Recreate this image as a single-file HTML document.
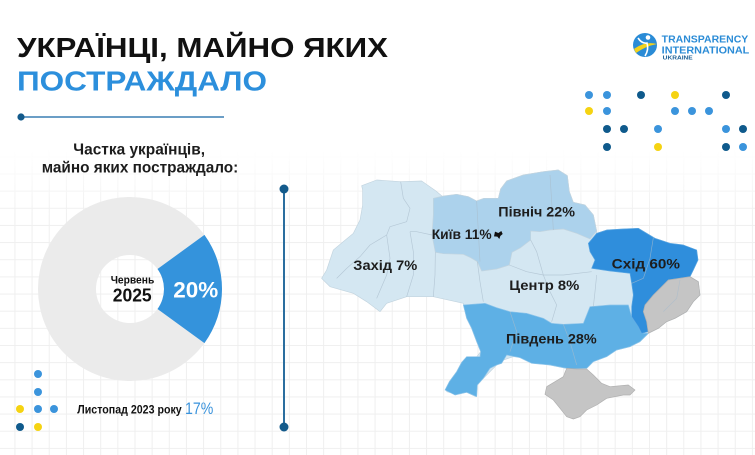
<!DOCTYPE html>
<html><head><meta charset="utf-8"><style>
html,body{margin:0;padding:0;background:#fff;}
svg{display:block;}
text{font-family:"Liberation Sans","DejaVu Sans",sans-serif;}
</style></head><body>
<svg width="755" height="455" viewBox="0 0 755 455" xmlns="http://www.w3.org/2000/svg">
<defs>
<pattern id="grid" x="14.45" y="2" width="17.15" height="17.15" patternUnits="userSpaceOnUse">
<path d="M0.5 0V17.15M0 0.5H17.15" stroke="#efefef" stroke-width="1" fill="none"/>
</pattern>
<linearGradient id="fade" gradientUnits="userSpaceOnUse" x1="0" y1="150" x2="0" y2="215">
<stop offset="0" stop-color="#000"/><stop offset="1" stop-color="#fff"/>
</linearGradient>
<mask id="gm"><rect x="0" y="0" width="755" height="455" fill="url(#fade)"/></mask>
</defs>
<rect width="755" height="455" fill="#fff"/>
<rect width="755" height="455" fill="url(#grid)" mask="url(#gm)"/>

<!-- Title -->
<text x="17" y="57" font-size="28" font-weight="700" fill="#111" textLength="371" lengthAdjust="spacingAndGlyphs">УКРАЇНЦІ, МАЙНО ЯКИХ</text>
<text x="17" y="90.5" font-size="28" font-weight="700" fill="#2c8fdc" textLength="250" lengthAdjust="spacingAndGlyphs">ПОСТРАЖДАЛО</text>
<line x1="21" y1="117" x2="224" y2="117" stroke="#3a7eb3" stroke-width="1.5"/>
<circle cx="21" cy="117" r="3.6" fill="#135a8b"/>

<!-- Subtitle -->
<text x="73.3" y="154.3" font-size="15.5" font-weight="700" fill="#1c1c1c" textLength="131.7" lengthAdjust="spacingAndGlyphs">Частка українців,</text>
<text x="41.7" y="172.7" font-size="15.5" font-weight="700" fill="#1c1c1c" textLength="196.6" lengthAdjust="spacingAndGlyphs">майно яких постраждало:</text>

<!-- Donut -->
<path d="M38,289 a92,92 0 1,0 184,0 a92,92 0 1,0 -184,0 Z M96,289 a34,34 0 1,0 68,0 a34,34 0 1,0 -68,0 Z" fill="#ebebeb" fill-rule="evenodd"/>
<path d="M157.5,269 L204.43,234.92 A92,92 0 0,1 204.43,343.08 L157.5,309 A34,34 0 0,0 157.5,269 Z" fill="#3493dc"/>
<text x="110.7" y="283.3" font-size="11" font-weight="700" fill="#111" textLength="43.6" lengthAdjust="spacingAndGlyphs">Червень</text>
<text x="112.7" y="301.7" font-size="18.5" font-weight="700" fill="#111" textLength="39" lengthAdjust="spacingAndGlyphs">2025</text>
<text x="173.3" y="297.7" font-size="22" font-weight="700" fill="#fff" textLength="45" lengthAdjust="spacingAndGlyphs">20%</text>

<!-- Bottom-left dots -->
<circle cx="38" cy="374" r="4" fill="#3b94dc"/>
<circle cx="38" cy="392" r="4" fill="#3b94dc"/>
<circle cx="20" cy="409" r="4" fill="#f5d312"/>
<circle cx="38" cy="409" r="4" fill="#3b94dc"/>
<circle cx="54" cy="409" r="4" fill="#3b94dc"/>
<circle cx="20" cy="427" r="4" fill="#0f5a8c"/>
<circle cx="38" cy="427" r="4" fill="#f5d312"/>
<text x="77.3" y="413.5" font-size="11.5" font-weight="700" fill="#111" textLength="104.4" lengthAdjust="spacingAndGlyphs">Листопад 2023 року</text>
<text x="185" y="414" font-size="16.5" fill="#3a93dc" textLength="28.3" lengthAdjust="spacingAndGlyphs">17%</text>

<!-- Vertical divider -->
<line x1="284" y1="189" x2="284" y2="427" stroke="#2b6e9f" stroke-width="2"/>
<circle cx="284" cy="189" r="4.5" fill="#135a8b"/>
<circle cx="284" cy="427" r="4.5" fill="#135a8b"/>

<!-- Logo -->
<circle cx="645" cy="45" r="12" fill="#2a8bd6"/>
<path d="M634,49 Q645,41 657,44 Q646,46 636,53 Z" fill="#f3d21c"/>
<circle cx="648" cy="37.5" r="2.3" fill="#fff"/>
<path d="M638,38 Q642,44 647,43 Q649,50 645,56" stroke="#fff" stroke-width="1.6" fill="none"/>
<text x="661.7" y="42.3" font-size="10" font-weight="700" fill="#2a8bd6" textLength="86.6" lengthAdjust="spacingAndGlyphs">TRANSPARENCY</text>
<text x="661.7" y="53.3" font-size="10" font-weight="700" fill="#2a8bd6" textLength="87.6" lengthAdjust="spacingAndGlyphs">INTERNATIONAL</text>
<text x="662.7" y="59.5" font-size="5" font-weight="700" fill="#1b5f95" textLength="30" lengthAdjust="spacingAndGlyphs">UKRAINE</text>

<!-- Top-right dots -->
<g>
<circle cx="589" cy="95" r="4" fill="#3b94dc"/>
<circle cx="607" cy="95" r="4" fill="#3b94dc"/>
<circle cx="641" cy="95" r="4" fill="#0f5a8c"/>
<circle cx="675" cy="95" r="4" fill="#f5d312"/>
<circle cx="726" cy="95" r="4" fill="#0f5a8c"/>
<circle cx="589" cy="111" r="4" fill="#f5d312"/>
<circle cx="607" cy="111" r="4" fill="#3b94dc"/>
<circle cx="675" cy="111" r="4" fill="#3b94dc"/>
<circle cx="692" cy="111" r="4" fill="#3b94dc"/>
<circle cx="709" cy="111" r="4" fill="#3b94dc"/>
<circle cx="607" cy="129" r="4" fill="#0f5a8c"/>
<circle cx="624" cy="129" r="4" fill="#0f5a8c"/>
<circle cx="658" cy="129" r="4" fill="#3b94dc"/>
<circle cx="726" cy="129" r="4" fill="#3b94dc"/>
<circle cx="743" cy="129" r="4" fill="#0f5a8c"/>
<circle cx="607" cy="147" r="4" fill="#0f5a8c"/>
<circle cx="658" cy="147" r="4" fill="#f5d312"/>
<circle cx="726" cy="147" r="4" fill="#0f5a8c"/>
<circle cx="743" cy="147" r="4" fill="#3b94dc"/>
</g>

<!-- Map -->
<g transform="translate(310 165) scale(0.333333)" stroke-linejoin="round">
<polygon fill="#d4e7f2" stroke="#c2d4df" stroke-width="2" points="155,62 200,45 272,50 335,48 378,78 398,95 440,88 475,95 500,108 522,100 565,100 572,72 590,48 640,30 700,20 745,15 772,32 778,80 790,112 825,120 850,150 860,198 860,205 891,195 940,192 985,190 1035,220 1080,235 1120,240 1160,255 1164,285 1150,315 1140,335 1165,350 1170,390 1150,410 1130,440 1095,460 1070,470 1045,490 1015,505 990,530 960,545 920,555 880,570 850,590 830,610 780,612 720,600 680,590 650,578 610,575 580,585 560,600 545,615 520,640 502,660 498,695 470,682 440,688 410,680 418,650 440,620 455,592 470,578 498,578 512,560 500,530 485,490 470,460 460,415 370,395 290,395 230,415 210,440 170,410 130,385 60,365 35,340 50,315 70,255 100,230 130,205 150,165 158,120 158,75"/>
<polygon fill="#acd2ec" stroke="#c2d4df" stroke-width="2" points="370,100 400,93 440,88 475,95 500,108 522,100 565,100 572,72 590,48 640,30 700,20 745,15 772,32 778,80 790,112 825,120 850,150 860,198 840,222 800,205 760,192 720,195 690,200 662,198 662,225 632,248 606,262 598,300 560,312 515,318 502,290 482,278 460,268 400,266 376,262 366,210 370,150"/>
<polygon fill="#5eb0e5" stroke="#8cc4ea" stroke-width="2" points="460,420 525,415 560,428 600,440 650,445 700,460 725,475 760,478 820,475 840,425 900,420 955,420 965,455 985,485 995,505 1015,505 990,530 960,545 920,555 890,575 850,590 830,610 780,612 720,600 665,595 630,578 590,570 575,595 560,600 540,610 520,640 502,660 500,695 470,682 435,690 405,675 418,650 440,620 455,592 470,575 510,575 512,560 500,530 485,490 470,460"/>
<polygon fill="#2f8edc" stroke="#5aa6e2" stroke-width="2" points="835,235 860,205 891,195 940,192 985,190 1035,220 1080,235 1120,240 1160,255 1164,285 1150,315 1140,335 1075,345 1050,370 1030,390 1005,420 1000,440 1010,470 1015,500 995,505 985,485 965,455 965,425 970,390 965,355 960,325 900,318 845,310 855,285 840,260"/>
<polygon fill="#c5c5c5" stroke="#b0b0b0" stroke-width="2" points="1075,345 1140,335 1165,350 1170,390 1150,410 1130,440 1095,460 1070,470 1045,490 1015,505 1010,470 1000,440 1005,420 1030,390 1050,370"/>
<polygon fill="#c5c5c5" stroke="#b0b0b0" stroke-width="2" points="770,610 800,612 830,612 850,630 875,655 900,665 955,660 975,675 960,690 940,690 890,700 860,720 830,735 810,755 790,762 770,755 750,730 730,705 705,688 710,665 735,650 760,635"/>
<g fill="none" stroke="#a9bccb" stroke-width="2" opacity="0.7">
<polyline points="272,50 280,100 300,130 290,170 240,185 230,210"/>
<polyline points="230,210 180,240 150,275 110,310 80,340"/>
<polyline points="300,200 310,260 310,330 290,395"/>
<polyline points="230,210 240,280 230,330 200,400"/>
<polyline points="366,210 320,200 300,200"/>
<polyline points="376,262 375,330 370,395"/>
<polyline points="502,290 510,350 520,410"/>
<polyline points="598,300 650,320 700,330 720,380 740,420 725,470"/>
<polyline points="662,225 680,260 700,330"/>
<polyline points="850,425 855,380 860,330"/>
<polyline points="700,330 760,330 845,320"/>
<polyline points="500,108 505,200 510,290"/>
<polyline points="720,30 725,110 730,195"/>
<polyline points="600,440 620,500 600,560"/>
<polyline points="760,478 780,530 800,600"/>
<polyline points="1030,218 1020,280 1000,340 965,355"/>
<polyline points="1110,345 1100,400 1060,440"/>
</g>
<path d="M555,200 L565,204 L574,198 L578,207 L571,213 L568,222 L562,215 L552,214 Z" fill="#111"/>
</g>

<!-- Map labels -->
<g font-size="14" font-weight="700" fill="#1d1d1d">
<text x="353.3" y="270" textLength="64" lengthAdjust="spacingAndGlyphs">Захід 7%</text>
<text x="431.7" y="239" textLength="60" lengthAdjust="spacingAndGlyphs">Київ 11%</text>
<text x="498.3" y="216.7" textLength="76.7" lengthAdjust="spacingAndGlyphs">Північ 22%</text>
<text x="509.3" y="290" textLength="70" lengthAdjust="spacingAndGlyphs">Центр 8%</text>
<text x="611.7" y="268.3" textLength="68.3" lengthAdjust="spacingAndGlyphs">Схід 60%</text>
<text x="506" y="343.3" textLength="90.7" lengthAdjust="spacingAndGlyphs">Південь 28%</text>
</g>
</svg>
</body></html>
